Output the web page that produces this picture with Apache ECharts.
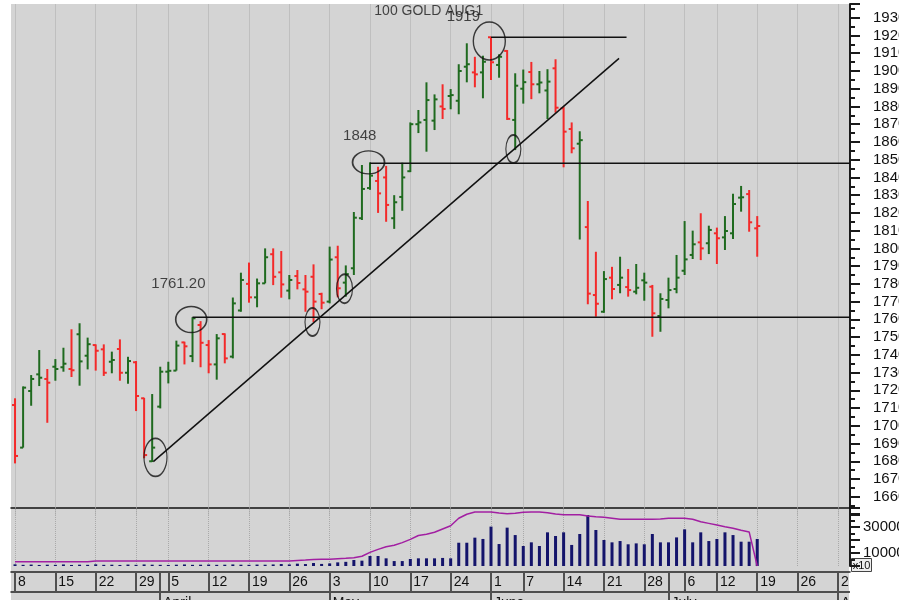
<!DOCTYPE html>
<html>
<head>
<meta charset="utf-8">
<title>100 GOLD AUG1</title>
<script src="https://cdn.jsdelivr.net/npm/echarts@6/dist/echarts.min.js"></script>
<style>
html, body { margin: 0; padding: 0; background: #fff; }
#main { width: 899px; height: 600px; }
</style>
</head>
<body>
<div id="main"></div>
<script>
// trading days (2021) shown on the axis, incl. the empty days to the right
const marchDays = [8, 9, 10, 11, 12, 15, 16, 17, 18, 19, 22, 23, 24, 25, 26, 29, 30, 31];
const aprilDays = [1, 5, 6, 7, 8, 9, 12, 13, 14, 15, 16, 19, 20, 21, 22, 23, 26, 27, 28, 29, 30];
const mayDays = [3, 4, 5, 6, 7, 10, 11, 12, 13, 14, 17, 18, 19, 20, 21, 24, 25, 26, 27, 28];
const juneDays = [1, 2, 3, 4, 7, 8, 9, 10, 11, 14, 15, 16, 17, 18, 21, 22, 23, 24, 25, 28, 29, 30];
const julyDays = [1, 2, 6, 7, 8, 9, 12, 13, 14, 15, 16, 19, 20, 21, 22, 23, 26, 27, 28, 29, 30];
const augustDays = [2, 3];
const monthNames = ['March', 'April', 'May', 'June', 'July', 'August'];

// daily bars
const opens = [1711.7, 1687.7, 1719.6, 1729.0, 1726.4, 1733.3, 1733.0, 1732.0, 1751.6, 1739.5,
  1745.5, 1743.1, 1736.1, 1743.3, 1729.9, 1735.8, 1715.5, 1680.0, 1710.8, 1730.5,
  1731.1, 1747.0, 1739.3, 1756.8, 1745.5, 1734.6, 1751.7, 1739.0, 1765.0, 1780.0,
  1772.4, 1780.3, 1796.7, 1786.5, 1776.2, 1784.4, 1776.9, 1784.0, 1774.3, 1770.0,
  1795.0, 1780.7, 1788.8, 1817.0, 1834.0, 1838.0, 1840.0, 1817.0, 1829.0, 1843.5,
  1870.0, 1872.4, 1872.0, 1880.0, 1885.9, 1883.2, 1902.4, 1899.2, 1899.2, 1919.0,
  1903.4, 1911.3, 1872.4, 1890.0, 1899.4, 1892.5, 1889.0, 1901.5, 1879.0, 1867.3,
  1859.0, 1812.0, 1773.7, 1764.3, 1783.5, 1779.4, 1778.2, 1775.6, 1782.0, 1778.4,
  1761.9, 1770.9, 1777.1, 1787.4, 1796.3, 1803.4, 1802.9, 1808.5, 1806.2, 1808.5,
  1828.6, 1830.6, 1811.3];
const highs = [1715.5, 1722.2, 1728.6, 1742.7, 1732.0, 1737.6, 1744.0, 1754.4, 1757.8, 1749.7,
  1745.9, 1745.9, 1741.8, 1748.7, 1738.9, 1736.5, 1715.8, 1717.9, 1733.3, 1736.1,
  1748.0, 1747.4, 1761.2, 1759.0, 1748.3, 1751.7, 1752.1, 1772.3, 1786.3, 1792.0,
  1783.0, 1800.0, 1800.0, 1798.5, 1785.0, 1787.8, 1785.0, 1791.0, 1775.0, 1801.0,
  1801.5, 1790.4, 1820.5, 1847.0, 1848.5, 1846.0, 1846.5, 1830.0, 1848.3, 1871.0,
  1878.0, 1893.6, 1886.8, 1892.5, 1889.8, 1903.8, 1915.6, 1908.0, 1908.6, 1919.0,
  1909.4, 1911.8, 1898.7, 1900.8, 1905.1, 1900.0, 1901.0, 1906.6, 1879.9, 1871.0,
  1866.0, 1826.7, 1798.1, 1787.2, 1789.6, 1795.3, 1788.4, 1791.2, 1786.3, 1779.4,
  1774.7, 1783.5, 1796.3, 1815.4, 1810.0, 1819.8, 1812.8, 1811.7, 1818.2, 1830.8,
  1835.2, 1832.9, 1818.2];
const lows = [1678.8, 1687.7, 1711.3, 1722.4, 1701.7, 1725.4, 1730.5, 1727.5, 1722.6, 1731.8,
  1731.1, 1728.1, 1729.6, 1725.4, 1723.7, 1708.3, 1681.7, 1679.6, 1709.8, 1723.9,
  1731.1, 1734.6, 1735.9, 1733.0, 1729.6, 1726.0, 1735.2, 1738.0, 1764.3, 1769.4,
  1766.8, 1780.3, 1779.3, 1772.2, 1771.3, 1776.9, 1764.3, 1758.5, 1765.7, 1769.0,
  1772.4, 1772.8, 1785.0, 1816.0, 1833.0, 1820.0, 1815.0, 1811.0, 1821.2, 1843.0,
  1865.0, 1854.5, 1866.7, 1872.9, 1878.4, 1875.6, 1893.6, 1890.8, 1884.6, 1894.9,
  1896.2, 1872.4, 1855.4, 1881.6, 1884.1, 1887.4, 1872.9, 1876.5, 1845.7, 1853.6,
  1805.0, 1768.5, 1761.5, 1763.7, 1771.3, 1774.7, 1772.8, 1774.1, 1770.5, 1750.2,
  1753.0, 1766.2, 1774.7, 1785.0, 1794.0, 1793.4, 1796.8, 1791.2, 1799.1, 1805.3,
  1820.7, 1809.4, 1795.3];
const closes = [1683.0, 1721.5, 1726.4, 1727.1, 1724.3, 1732.0, 1735.0, 1731.3, 1736.3, 1746.0,
  1742.3, 1729.9, 1737.1, 1729.9, 1736.5, 1716.8, 1683.5, 1687.7, 1730.5, 1731.0,
  1745.2, 1744.8, 1760.6, 1746.8, 1734.6, 1749.3, 1738.0, 1769.0, 1782.2, 1772.4,
  1780.3, 1795.0, 1784.0, 1779.7, 1782.2, 1780.5, 1775.6, 1770.0, 1769.4, 1793.7,
  1777.5, 1785.5, 1817.3, 1833.5, 1841.0, 1831.0, 1824.5, 1826.0, 1840.0, 1870.0,
  1871.0, 1883.6, 1884.0, 1878.6, 1886.4, 1900.0, 1903.8, 1898.1, 1905.2, 1904.9,
  1908.0, 1873.0, 1891.7, 1893.7, 1892.5, 1893.5, 1894.0, 1879.3, 1865.8, 1856.4,
  1861.0, 1774.5, 1768.8, 1782.7, 1777.1, 1783.5, 1776.5, 1777.8, 1780.7, 1763.4,
  1771.5, 1776.5, 1783.5, 1793.8, 1802.3, 1800.0, 1810.4, 1805.7, 1809.8, 1825.0,
  1828.8, 1814.7, 1812.6];

// volume and open interest (x10)
const volumes = [1300, 900, 1100, 800, 1000, 900, 1200, 800, 1000, 900,
  1300, 900, 1000, 800, 1100, 900, 1200, 1000, 900, 800,
  1000, 1200, 900, 1000, 1100, 900, 1000, 1200, 1000, 900,
  1100, 1000, 1200, 1500, 1200, 1800, 1500, 2300, 1600, 2000,
  2800, 3200, 4600, 4100, 7700, 7700, 5900, 3800, 3800, 5400,
  5900, 5900, 5900, 6200, 5900, 17900, 17900, 21800, 20800, 30300,
  16900, 29500, 23800, 15400, 18200, 15400, 25900, 23100, 25900, 16200,
  24600, 39200, 27700, 20000, 18200, 19200, 16700, 17400, 16700, 24600,
  18200, 18200, 22000, 28200, 18200, 25900, 19200, 20800, 25900, 23800,
  18700, 18700, 20800];
const openInterest = [3300, 3300, 3300, 3300, 3300, 3300, 3300, 3300, 3300, 3300,
  3850, 3850, 3850, 3850, 3850, 3850, 3850, 3850, 3850, 3850,
  3850, 3850, 3850, 3850, 3850, 3850, 3850, 3850, 3850, 3850,
  3850, 3850, 3850, 3850, 3850, 4300, 4600, 5000, 5150, 5150,
  5600, 5900, 6300, 7500, 10500, 12800, 14800, 16000, 18000, 20500,
  23500, 24500, 26000, 28500, 31000, 36700, 39800, 41500, 41500, 41500,
  40800, 40200, 40500, 41300, 41500, 41500, 41000, 40000, 39500, 39500,
  39500, 38500, 37900, 37500, 36700, 35900, 35900, 35900, 35900, 35900,
  36100, 36700, 36700, 36700, 35900, 34100, 32800, 31500, 30200, 29000,
  27500, 26200, 0];

// drawn studies: [x index, price]
const trendLine = [[17.14, 1679.8], [74.87, 1907.1]];
const level1761 = [[22, 1761.2], [103.5, 1761.2]];
const level1848 = [[44, 1848], [103.5, 1848]];
const level1919 = [[59, 1919], [75.8, 1919]];
const circledPoints = [[17.41, 1682.2], [21.84, 1759.9], [36.87, 1758.5], [40.84, 1777.3],
  [43.82, 1848.5], [58.79, 1916.9], [61.77, 1856.0]];
const circleSizes = [[23, 38], [31, 26], [15, 28], [16, 29], [32, 23], [32, 38], [15, 28]];
const notes = [
  { name: '1761.20', value: [20.25, 1780.0] },
  { name: '1848', value: [42.73, 1863.2] },
  { name: '1919', value: [55.57, 1930.3] },
  { name: '100 GOLD AUG1', value: [51.29, 1933.9], label: { fontSize: 14 } }
];

const FONT = "'Liberation Sans', Arial, sans-serif";
const UP_COLOR = '#1f6a1f';
const DOWN_COLOR = '#f32a2a';

// build the day list
const days = [];
[marchDays, aprilDays, mayDays, juneDays, julyDays, augustDays].forEach(function (list, m) {
  list.forEach(function (d) {
    days.push({ month: m, day: d, dow: new Date(2021, m + 2, d).getDay() });
  });
});
const categories = days.map(function (d) { return (d.month + 3) + '/' + d.day; });
const isWeekStart = days.map(function (d, i) { return i === 0 || d.dow <= days[i - 1].dow; });
const isMonthStart = days.map(function (d, i) { return i > 0 && d.month !== days[i - 1].month; });
const weekLines = [];
isWeekStart.forEach(function (w, i) { if (w) weekLines.push({ xAxis: i }); });

const barData = opens.map(function (o, i) {
  const prev = i === 0 ? o : closes[i - 1];
  return [i, o, highs[i], lows[i], closes[i], closes[i] >= prev ? 1 : 0];
});

function renderBar(params, api) {
  const i = api.value(0);
  const top = api.coord([i, api.value(2)]);
  const bottom = api.coord([i, api.value(3)]);
  const open = api.coord([i, api.value(1)]);
  const close = api.coord([i, api.value(4)]);
  const style = { stroke: api.value(5) ? UP_COLOR : DOWN_COLOR, lineWidth: 2 };
  return {
    type: 'group',
    children: [
      { type: 'line', shape: { x1: top[0], y1: top[1], x2: bottom[0], y2: bottom[1] }, style: style },
      { type: 'line', shape: { x1: open[0] - 3, y1: open[1], x2: open[0], y2: open[1] }, style: style },
      { type: 'line', shape: { x1: close[0], y1: close[1], x2: close[0] + 3, y2: close[1] }, style: style }
    ]
  };
}

// dotted weekly grid, kept behind the bars
const weekMarks = {
  silent: true,
  z: 1,
  symbol: ['none', 'none'],
  label: { show: false },
  lineStyle: { color: '#a9a9a9', type: 'dotted', width: 1 },
  animation: false,
  data: weekLines
};

function studyLine(data) {
  return {
    type: 'line', xAxisIndex: 4, yAxisIndex: 0, data: data, symbol: 'none', silent: true,
    lineStyle: { color: '#111', width: 1.5 }, z: 5
  };
}

function panel(top, height) {
  return { left: 11, width: 839, top: top, height: height, outerBoundsMode: 'none' };
}

const chart = echarts.init(document.getElementById('main'));
chart.setOption({
  animation: false,
  backgroundColor: '#fff',
  textStyle: { fontFamily: FONT },
  graphic: [
    { type: 'rect', left: 11, top: 4, shape: { width: 838, height: 596 }, style: { fill: '#d4d4d4' }, z: -10 },
    // the month row is cut at the right edge of the chart area
    { type: 'rect', left: 850, top: 573, shape: { width: 49, height: 27 }, style: { fill: '#fff' }, z: 50 },
    {
      type: 'group', left: 851, top: 558, z: 100,
      children: [
        { type: 'rect', shape: { x: 0, y: 0, width: 20, height: 13 }, style: { fill: '#eeeeee', stroke: '#444', lineWidth: 1 } },
        { type: 'text', style: { x: 10, y: 7, text: 'x10', font: '11px ' + FONT, align: 'center', verticalAlign: 'middle', fill: '#111' } }
      ]
    }
  ],
  grid: [panel(4, 510.5), panel(507.5, 58.5), panel(572, 20), panel(592, 20)],
  xAxis: [
    { type: 'category', gridIndex: 0, data: categories, show: false },
    {
      type: 'category', gridIndex: 1, data: categories, position: 'top',
      axisLine: { onZero: false, lineStyle: { color: '#111', width: 1.5 } },
      axisTick: { show: false }, axisLabel: { show: false }, splitLine: { show: false }
    },
    {
      type: 'category', gridIndex: 2, data: categories, position: 'top',
      axisLine: { onZero: false, lineStyle: { color: '#222', width: 1.5 } },
      axisTick: {
        show: true, inside: true, length: 20, alignWithLabel: true,
        interval: function (i) { return isWeekStart[i] || isMonthStart[i]; },
        lineStyle: { color: '#505050', width: 2 }
      },
      axisLabel: {
        inside: true, margin: 10, align: 'left', verticalAlign: 'middle', padding: [0, 0, 0, 3],
        fontSize: 14, color: '#111', fontFamily: FONT,
        interval: function (i) { return isWeekStart[i]; },
        formatter: function (v) { return v.split('/')[1]; }
      },
      splitLine: { show: false }
    },
    {
      type: 'category', gridIndex: 3, data: categories, position: 'top',
      axisLine: { onZero: false, lineStyle: { color: '#222', width: 1.5 } },
      axisTick: {
        show: true, inside: true, length: 20, alignWithLabel: true,
        interval: function (i) { return isMonthStart[i]; },
        lineStyle: { color: '#505050', width: 2 }
      },
      axisLabel: {
        inside: true, margin: 4, align: 'left', verticalAlign: 'top', padding: [0, 0, 0, 3],
        fontSize: 14, color: '#111', fontFamily: FONT,
        interval: function (i) { return isMonthStart[i]; },
        formatter: function (v, i) { return monthNames[days[i].month]; }
      },
      splitLine: { show: false }
    },
    { type: 'value', gridIndex: 0, min: -0.5, max: 103.5, show: false, axisLine: { onZero: false } }
  ],
  yAxis: [
    {
      type: 'value', gridIndex: 0, position: 'right', min: 1650, max: 1937.75, interval: 10,
      axisLine: { show: true, onZero: false, lineStyle: { color: '#1a1a1a', width: 2 } },
      axisTick: { show: true, length: 10, lineStyle: { color: '#1a1a1a', width: 2 } },
      minorTick: { show: true, splitNumber: 2, length: 5, lineStyle: { color: '#1a1a1a', width: 2 } },
      splitLine: { show: false },
      axisLabel: {
        margin: 23, fontSize: 15, color: '#111', fontFamily: FONT,
        formatter: function (v) { return (v >= 1660 && v <= 1930 && v % 10 === 0) ? String(v) : ''; }
      }
    },
    {
      type: 'value', gridIndex: 1, position: 'right', min: 0, max: 45000, interval: 10000,
      axisLine: { show: true, onZero: false, lineStyle: { color: '#1a1a1a', width: 2 } },
      axisTick: { show: true, length: 10, lineStyle: { color: '#1a1a1a', width: 2 } },
      minorTick: { show: true, splitNumber: 2, length: 5, lineStyle: { color: '#1a1a1a', width: 2 } },
      splitLine: { show: false },
      axisLabel: {
        margin: 13, fontSize: 15, color: '#111', fontFamily: FONT,
        formatter: function (v) { return (v === 10000 || v === 30000) ? String(v) : ''; }
      }
    },
    { type: 'value', gridIndex: 2, show: false, axisLine: { onZero: false } },
    { type: 'value', gridIndex: 3, show: false, axisLine: { onZero: false } }
  ],
  series: [
    {
      type: 'custom', xAxisIndex: 0, yAxisIndex: 0, data: barData,
      encode: { x: 0, y: [1, 2, 3, 4] }, renderItem: renderBar, silent: true, z: 3
    },
    Object.assign(studyLine(trendLine), { markLine: weekMarks }),
    studyLine(level1761),
    studyLine(level1848),
    studyLine(level1919),
    {
      type: 'scatter', xAxisIndex: 4, yAxisIndex: 0, data: circledPoints.map(function (p, k) {
        return p.concat(circleSizes[k]);
      }),
      symbol: 'circle', symbolSize: function (v) { return [v[2], v[3]]; }, silent: true, z: 6,
      itemStyle: { color: 'rgba(0,0,0,0)', borderColor: '#111', borderWidth: 1.5 }
    },
    {
      type: 'scatter', xAxisIndex: 4, yAxisIndex: 0, data: notes, symbolSize: 0, silent: true, z: 7,
      label: { show: true, position: 'inside', formatter: '{b}', fontSize: 15, color: '#1a1a1a', fontFamily: FONT }
    },
    {
      type: 'bar', xAxisIndex: 1, yAxisIndex: 1, data: volumes, barWidth: 3, silent: true, z: 3,
      itemStyle: { color: '#14146b' }, markLine: weekMarks
    },
    {
      type: 'line', xAxisIndex: 1, yAxisIndex: 1, data: openInterest, symbol: 'none', silent: true, z: 4,
      lineStyle: { color: '#a21fa2', width: 1.5 }
    }
  ]
});
</script>
</body>
</html>
